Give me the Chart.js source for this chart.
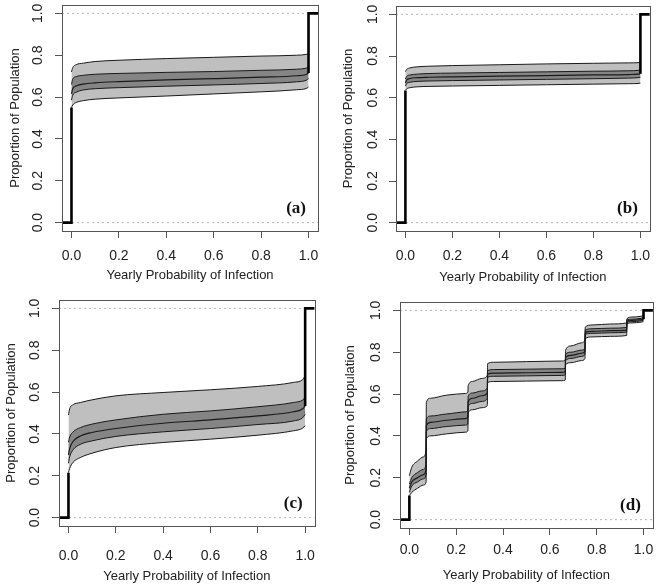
<!DOCTYPE html>
<html>
<head>
<meta charset="utf-8">
<script src="https://cdn.jsdelivr.net/npm/chart.js@4.4.0/dist/chart.umd.min.js"></script>
<style>
html, body { margin:0; padding:0; background:#fff; width:660px; height:584px; overflow:hidden; }
canvas { position:absolute; }
</style>
</head>
<body>
<canvas id="chart-a" width="330" height="300" style="left:0px;top:0px"></canvas>
<canvas id="chart-b" width="330" height="300" style="left:330px;top:0px"></canvas>
<canvas id="chart-c" width="330" height="300" style="left:0px;top:292px"></canvas>
<canvas id="chart-d" width="330" height="300" style="left:330px;top:292px"></canvas>
<script>
// axes
var xTicks = [0, 0.2, 0.4, 0.6, 0.8, 1.0];
var yTicks = [0, 0.2, 0.4, 0.6, 0.8, 1.0];
var axisLim = [-0.04, 1.04];
var refLevels = [0, 1];
var panelTags = ['(a)', '(b)', '(c)', '(d)'];

// panels a, b, c share one x grid
var xSmooth = [0, 0.005, 0.02, 0.05, 0.1, 0.2, 0.4, 0.6, 0.8, 0.95, 0.99, 1.0];

// (a)
var outerHiA = [0.72, 0.74, 0.755, 0.762, 0.77, 0.776, 0.784, 0.79, 0.796, 0.80, 0.804, 0.808];
var innerHiA = [0.66, 0.685, 0.698, 0.704, 0.709, 0.713, 0.718, 0.722, 0.728, 0.733, 0.738, 0.742];
var medA     = [0.615, 0.64, 0.653, 0.662, 0.668, 0.674, 0.682, 0.688, 0.695, 0.702, 0.708, 0.715];
var innerLoA = [0.585, 0.608, 0.623, 0.634, 0.64, 0.645, 0.652, 0.658, 0.665, 0.673, 0.68, 0.688];
var outerLoA = [0.55, 0.562, 0.574, 0.583, 0.59, 0.596, 0.605, 0.615, 0.625, 0.635, 0.641, 0.648];

// (b)
var outerHiB = [0.725, 0.735, 0.743, 0.748, 0.751, 0.754, 0.758, 0.762, 0.765, 0.767, 0.768, 0.77];
var innerHiB = [0.69, 0.702, 0.709, 0.713, 0.716, 0.718, 0.721, 0.724, 0.727, 0.729, 0.731, 0.733];
var medB     = [0.67, 0.684, 0.692, 0.696, 0.698, 0.70, 0.703, 0.706, 0.709, 0.711, 0.713, 0.715];
var innerLoB = [0.655, 0.667, 0.674, 0.678, 0.68, 0.682, 0.685, 0.688, 0.691, 0.694, 0.696, 0.698];
var outerLoB = [0.635, 0.642, 0.648, 0.652, 0.654, 0.656, 0.659, 0.662, 0.665, 0.667, 0.668, 0.67];

// (c)
var outerHiC = [0.49, 0.52, 0.54, 0.55, 0.563, 0.582, 0.598, 0.611, 0.627, 0.646, 0.66, 0.678];
var innerHiC = [0.36, 0.385, 0.41, 0.43, 0.447, 0.467, 0.494, 0.51, 0.53, 0.55, 0.562, 0.574];
var medC     = [0.30, 0.33, 0.365, 0.39, 0.407, 0.426, 0.451, 0.467, 0.486, 0.506, 0.52, 0.534];
var innerLoC = [0.26, 0.29, 0.325, 0.35, 0.367, 0.388, 0.41, 0.426, 0.445, 0.462, 0.478, 0.494];
var outerLoC = [0.215, 0.235, 0.265, 0.287, 0.308, 0.335, 0.359, 0.375, 0.394, 0.415, 0.428, 0.44];

// (d) stepped, jumps near 1/14, 1/4, 1/3, 2/3, 3/4, 13/14
var xD = [0, 0.01, 0.035, 0.06, 0.0714,
	0.0724, 0.09, 0.16, 0.24, 0.25,
	0.251, 0.27, 0.31, 0.333,
	0.334, 0.36, 0.5, 0.65, 0.666,
	0.667, 0.69, 0.735, 0.75,
	0.751, 0.78, 0.86, 0.928,
	0.929, 0.95, 0.99, 1.0];
var outerHiD = [0.21, 0.25, 0.28, 0.30, 0.335, 0.56, 0.58, 0.595, 0.603, 0.61, 0.64, 0.66, 0.675, 0.69, 0.745, 0.752, 0.755, 0.758, 0.762, 0.81, 0.83, 0.845, 0.86, 0.92, 0.93, 0.935, 0.94, 0.96, 0.968, 0.972, 0.975];
var innerHiD = [0.17, 0.20, 0.225, 0.24, 0.27, 0.48, 0.495, 0.505, 0.515, 0.525, 0.59, 0.605, 0.615, 0.63, 0.712, 0.717, 0.719, 0.721, 0.724, 0.79, 0.80, 0.81, 0.82, 0.905, 0.912, 0.915, 0.918, 0.955, 0.958, 0.962, 0.965];
var medD     = [0.15, 0.18, 0.20, 0.215, 0.24, 0.45, 0.465, 0.475, 0.483, 0.49, 0.565, 0.58, 0.592, 0.605, 0.695, 0.70, 0.702, 0.704, 0.707, 0.775, 0.785, 0.795, 0.805, 0.895, 0.90, 0.903, 0.906, 0.948, 0.952, 0.956, 0.958];
var innerLoD = [0.13, 0.16, 0.18, 0.195, 0.215, 0.42, 0.435, 0.445, 0.452, 0.46, 0.54, 0.555, 0.565, 0.58, 0.68, 0.685, 0.687, 0.689, 0.692, 0.76, 0.77, 0.78, 0.79, 0.885, 0.89, 0.893, 0.896, 0.942, 0.946, 0.95, 0.952];
var outerLoD = [0.115, 0.13, 0.15, 0.165, 0.18, 0.385, 0.40, 0.41, 0.418, 0.425, 0.51, 0.525, 0.535, 0.545, 0.655, 0.66, 0.662, 0.664, 0.667, 0.74, 0.75, 0.76, 0.77, 0.865, 0.873, 0.876, 0.88, 0.935, 0.94, 0.944, 0.946];

// layout per panel (canvas px): box = plot frame, rest = text centres
var panels = [
	{id:'chart-a', box:[62, 5, 318, 231], yTitleX:15, yLabelX:38, xTickY:256, xTitleY:275,
		xs:xSmooth, oHi:outerHiA, iHi:innerHiA, med:medA, iLo:innerLoA, oLo:outerLoA},
	{id:'chart-b', box:[66, 6, 323, 231], yTitleX:18, yLabelX:43, xTickY:256, xTitleY:277,
		xs:xSmooth, oHi:outerHiB, iHi:innerHiB, med:medB, iLo:innerLoB, oLo:outerLoB},
	{id:'chart-c', box:[59, 8, 316, 234], yTitleX:11, yLabelX:35, xTickY:264, xTitleY:284,
		xs:xSmooth, oHi:outerHiC, iHi:innerHiC, med:medC, iLo:innerLoC, oLo:outerLoC},
	{id:'chart-d', box:[70, 10, 326, 236], yTitleX:20, yLabelX:46, xTickY:258, xTitleY:283,
		xs:xD, oHi:outerHiD, iHi:innerHiD, med:medD, iLo:innerLoD, oLo:outerLoD}
];

var FONT = 'Liberation Sans';
var TEXT = '#222';
var TICK_LEN = 7;
var TICK_SIZE = 14;
var TITLE_SIZE = 13;

var framePlugin = {
	id: 'frame',
	afterDraw: function(chart, args, opts){
		var ctx = chart.ctx, a = chart.chartArea, ys = chart.scales.y;
		ctx.save();
		ctx.strokeStyle = '#555';
		ctx.lineWidth = 1;
		ctx.strokeRect(Math.round(a.left) + 0.5, Math.round(a.top) + 0.5,
			Math.round(a.right - a.left), Math.round(a.bottom - a.top));
		// y tick labels, parallel to the axis
		ctx.fillStyle = TEXT;
		ctx.font = TICK_SIZE + 'px "' + FONT + '"';
		ctx.textAlign = 'center';
		ctx.textBaseline = 'middle';
		yTicks.forEach(function(v){
			ctx.save();
			ctx.translate(opts.labelX, ys.getPixelForValue(v));
			ctx.rotate(-Math.PI / 2);
			ctx.fillText(v.toFixed(1), 0, 0);
			ctx.restore();
		});
		// panel tag
		ctx.font = 'bold 17px "Liberation Serif"';
		ctx.fillStyle = '#111';
		ctx.textAlign = 'right';
		ctx.fillText(opts.tag, a.right - 12, a.bottom - 22);
		ctx.restore();
	}
};

function _points(xs, ys){
	return xs.map(function(x, i){ return {x: x, y: ys[i]}; });
}

function _band(xs, ys, fillTo, bg, width){
	return {
		data: _points(xs, ys),
		borderColor: '#1a1a1a',
		borderWidth: width,
		backgroundColor: bg,
		fill: fillTo,
		pointRadius: 0,
		cubicInterpolationMode: 'monotone'
	};
}

function _createChart(p, index){
	var H = 300, W = 330;
	var n = p.xs.length;
	var stepLine = [
		{x: axisLim[0], y: 0}, {x: 0, y: 0}, {x: 0, y: p.oLo[0]},
		{x: 0.5, y: null},
		{x: 1, y: p.med[n - 1]}, {x: 1, y: 1}, {x: axisLim[1], y: 1}
	];
	var datasets = [
		{data: stepLine, borderColor: '#000', borderWidth: 2.6, tension: 0, spanGaps: false, pointRadius: 0, fill: false},
		_band(p.xs, p.med, false, 'transparent', 1.2),
		_band(p.xs, p.iHi, '+1', '#858585', 1),
		_band(p.xs, p.iLo, false, 'transparent', 1),
		_band(p.xs, p.oHi, '+1', '#bfbfbf', 1),
		_band(p.xs, p.oLo, false, 'transparent', 1)
	];
	refLevels.forEach(function(lv){
		datasets.push({
			data: [{x: axisLim[0], y: lv}, {x: axisLim[1], y: lv}],
			borderColor: '#b5b5b5', borderWidth: 1, borderDash: [2, 3],
			pointRadius: 0, fill: false, tension: 0
		});
	});

	var lh = 1.2;
	return new Chart(document.getElementById(p.id), {
		type: 'line',
		data: {datasets: datasets},
		plugins: [framePlugin],
		options: {
			responsive: false,
			animation: false,
			events: [],
			layout: {padding: {left: 0, top: p.box[1], right: W - p.box[2], bottom: 0}},
			plugins: {
				legend: {display: false},
				tooltip: {enabled: false},
				filler: {drawTime: 'beforeDatasetsDraw'},
				frame: {labelX: p.yLabelX, tag: panelTags[index]}
			},
			scales: {
				x: {
					type: 'linear', min: axisLim[0], max: axisLim[1],
					afterBuildTicks: function(s){ s.ticks = xTicks.map(function(v){ return {value: v}; }); },
					afterFit: function(s){ s.height = H - p.box[3]; },
					ticks: {
						color: TEXT, font: {family: FONT, size: TICK_SIZE}, maxRotation: 0, autoSkip: false,
						padding: p.xTickY - p.box[3] - TICK_LEN - TICK_SIZE * lh / 2,
						callback: function(v){ return Number(v).toFixed(1); }
					},
					grid: {drawOnChartArea: false, drawTicks: true, tickLength: TICK_LEN, color: '#555'},
					border: {display: false},
					title: {
						display: true, text: 'Yearly Probability of Infection', color: TEXT,
						font: {family: FONT, size: TITLE_SIZE},
						padding: {top: 0, bottom: H - p.xTitleY - TITLE_SIZE * lh / 2}
					}
				},
				y: {
					type: 'linear', min: axisLim[0], max: axisLim[1],
					afterBuildTicks: function(s){ s.ticks = yTicks.map(function(v){ return {value: v}; }); },
					afterFit: function(s){ s.width = p.box[0]; },
					ticks: {display: false},
					grid: {drawOnChartArea: false, drawTicks: true, tickLength: TICK_LEN, color: '#555'},
					border: {display: false},
					title: {
						display: true, text: 'Proportion of Population', color: TEXT,
						font: {family: FONT, size: TITLE_SIZE},
						padding: {top: p.yTitleX - TITLE_SIZE * lh / 2, bottom: 0}
					}
				}
			}
		}
	});
}

panels.forEach(_createChart);
</script>
</body>
</html>
